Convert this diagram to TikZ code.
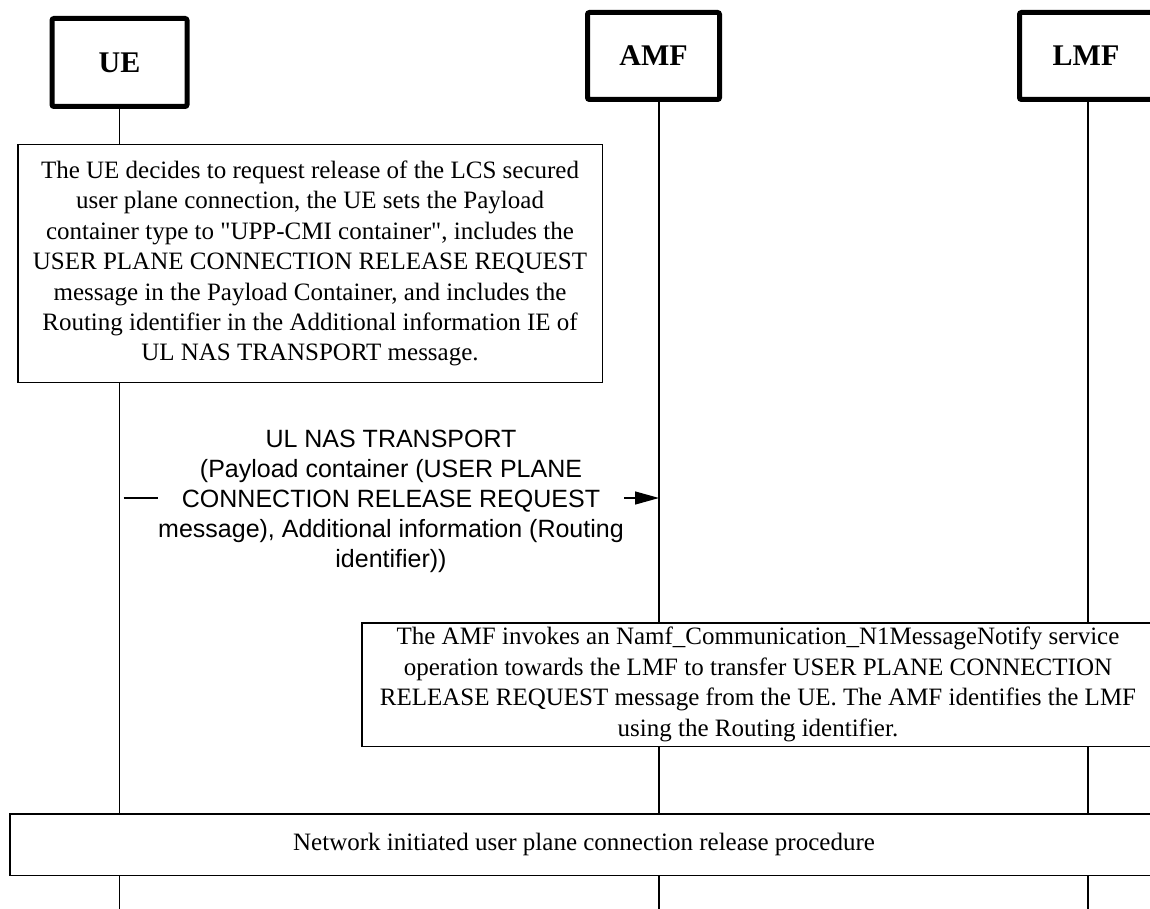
\documentclass[tikz,border=0pt]{standalone}
\usepackage{fontspec}
\setmainfont{Liberation Serif}[Ligatures=TeXOff]
\newfontfamily\arialfont{Liberation Sans}
\usetikzlibrary{arrows.meta}
\begin{document}
\begin{tikzpicture}[x=1pt,y=-1pt,
  actor/.style={draw, line width=5pt, rounded corners=2pt, fill=white, inner sep=0pt,
    font=\fontsize{30}{35}\selectfont\bfseries},
  note/.style={draw, line width=1.5pt, fill=white, inner sep=0pt, align=center,
    font=\fontsize{25}{30.4}\selectfont},
  life/.style={line width=1.3pt},
  msg/.style={line width=1.3pt, shorten <=4pt, -{Triangle[length=24pt,width=13pt]}},
  msglabel/.style={fill=white, inner sep=0.5pt, align=center,
    font=\arialfont\fontsize{25}{30}\selectfont},
]
\useasboundingbox (0,0) rectangle (1150,909);
\clip (0,0) rectangle (1150,909);

% lifeline x positions (bottom ends)
\coordinate (ueL)  at (119.5,912);
\coordinate (amfL) at (659,912);
\coordinate (lmfL) at (1088,912);

% actor boxes
\node[actor, minimum width=135pt, minimum height=88pt] (ue)  at (119.5,62.5) {\raisebox{-3pt}{UE}};
\node[actor, minimum width=132pt, minimum height=87pt] (amf) at (653.5,56) {AMF};
\node[actor, minimum width=133pt, minimum height=87pt] (lmf) at (1086,56) {LMF};

% lifelines
\draw[life] (ue.south -| ueL) -- (ueL);
\draw[life] (amf.south -| amfL) -- (amfL);
\draw[life] (lmf.south -| lmfL) -- (lmfL);

% UE note
\node[note, minimum width=584.5pt, minimum height=237.5pt] (uenote) at (310,263.5)
  {The UE decides to request release of the LCS secured\\
   user plane connection, the UE sets the Payload\\
   container type to "UPP-CMI container", includes the\\
   USER PLANE CONNECTION RELEASE REQUEST\\
   message in the Payload Container, and includes the\\
   Routing identifier in the Additional information IE of\\
   UL NAS TRANSPORT message.};

% message
\coordinate (m1s) at (119.5,498);
\coordinate (m1e) at (659,498);
\draw[msg] (m1s) -- (m1e);
\node[msglabel] (m1lab) at (391,501)
  {UL NAS TRANSPORT\\
   (Payload container (USER PLANE\\
   CONNECTION RELEASE REQUEST\\
   message), Additional information (Routing\\
   identifier))};

% AMF note
\node[note, minimum width=792.5pt, minimum height=123.5pt] (amfnote) at (758,684.5)
  {\raisebox{-2pt}{\begin{tabular}{@{}c@{}}The AMF invokes an Namf\_Communication\_N1MessageNotify service\\
   operation towards the LMF to transfer USER PLANE CONNECTION\\
   RELEASE REQUEST message from the UE. The AMF identifies the LMF\\
   using the Routing identifier.\end{tabular}}};

% procedure box
\node[note, minimum width=1148.5pt, minimum height=61.5pt] (proc) at (584,844.5)
  {\raisebox{-4pt}{Network initiated user plane connection release procedure}};
\end{tikzpicture}
\end{document}
